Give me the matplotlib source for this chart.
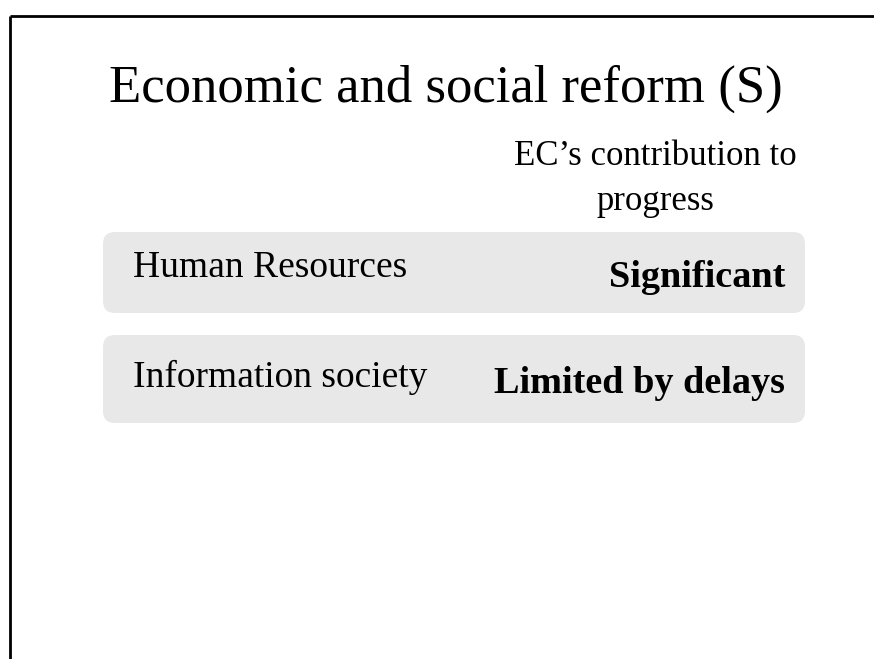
import matplotlib.pyplot as plt
from matplotlib.patches import FancyBboxPatch

# Slide content
title = 'Economic and social reform (S)'
column_header = ['EC\u2019s contribution to', 'progress']
areas = ['Human Resources', 'Information society']
ratings = ['Significant', 'Limited by delays']

plt.rcParams['font.family'] = ['Liberation Serif', 'DejaVu Serif']

fig = plt.figure(figsize=(8.74, 6.59), dpi=100)
ax = fig.add_axes([0, 0, 1, 1])
ax.set_xlim(0, 874)
ax.set_ylim(659, 0)
ax.axis('off')

# slide border (top and left edges visible)
ax.plot([10, 874], [16, 16], color='black', lw=2, solid_capstyle='butt')
ax.plot([10, 10], [16, 659], color='black', lw=2, solid_capstyle='butt')

ax.text(446, 102, title, fontsize=38, ha='center', va='baseline')
for i, line in enumerate(column_header):
    ax.text(655, 165 + 45 * i, line, fontsize=25, ha='center', va='baseline')

# rounded grey rows
row_top = [232, 335]
row_h = [81, 88]
label_base = [277, 387]
rating_base = [287, 393]
r = 12
for i in range(len(areas)):
    box = FancyBboxPatch((103 + r, row_top[i] + r), 702 - 2 * r, row_h[i] - 2 * r,
                         boxstyle='round,pad=%d' % r, fc='#e8e8e8', ec='none')
    ax.add_patch(box)
    ax.text(133, label_base[i], areas[i], fontsize=27, ha='left', va='baseline')
    ax.text(785, rating_base[i], ratings[i], fontsize=27.5, fontweight='bold',
            ha='right', va='baseline')

plt.savefig('out.png', dpi=100)
